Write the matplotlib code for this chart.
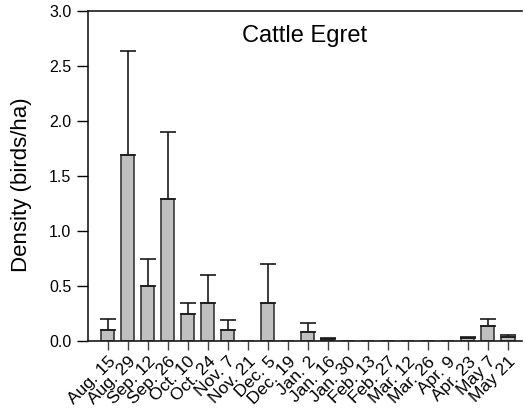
import matplotlib
matplotlib.use("Agg")
import matplotlib.pyplot as plt
import numpy as np

plt.rcParams['font.family'] = ['Liberation Sans', 'DejaVu Sans']

dates = ["Aug. 15", "Aug. 29", "Sep. 12", "Sep. 26", "Oct. 10", "Oct. 24", "Nov. 7",
         "Nov. 21", "Dec. 5", "Dec. 19", "Jan. 2", "Jan. 16", "Jan. 30", "Feb. 13",
         "Feb. 27", "Mar. 12", "Mar. 26", "Apr. 9", "Apr. 23", "May 7", "May 21"]
density = [0.10, 1.69, 0.50, 1.29, 0.25, 0.35, 0.10,
           0.0, 0.35, 0.0, 0.085, 0.015, 0.0, 0.0,
           0.0, 0.0, 0.0, 0.0, 0.03, 0.14, 0.034]
upper = [0.20, 2.64, 0.75, 1.90, 0.35, 0.60, 0.19,
         0.0, 0.70, 0.0, 0.16, 0.03, 0.0, 0.0,
         0.0, 0.0, 0.0, 0.0, 0.04, 0.20, 0.052]
yticks = [0.0, 0.5, 1.0, 1.5, 2.0, 2.5, 3.0]

fig = plt.figure(figsize=(5.25, 4.12), dpi=100)
ax = fig.add_axes([0.1676, 0.1723, 0.8267, 0.801])

x = np.arange(len(dates))
vals = np.array(density)
err_up = np.array(upper) - vals
has_err = np.array(upper) > 0

ax.bar(x, vals, width=0.65, color='#c0c0c0', edgecolor='#2a2a2a', linewidth=1.1, zorder=2)
ax.errorbar(x[has_err], vals[has_err],
            yerr=[np.zeros(has_err.sum()), err_up[has_err]],
            fmt='none', ecolor='#1a1a1a', elinewidth=1.2, capsize=5.8, capthick=1.2, zorder=3)

ax.set_xlim(-0.98, 20.7)
ax.set_ylim(0, 3.0)
ax.set_yticks(yticks)
ax.set_yticklabels([f"{v:.1f}" for v in yticks], fontsize=11.5)
ax.set_xticks(x)
ax.set_xticklabels(dates, rotation=45, ha='right', rotation_mode='anchor', fontsize=12.5)
ax.tick_params(axis='y', direction='out', length=8, width=1.0, pad=4)
ax.tick_params(axis='x', direction='out', length=6.5, width=1.0, pad=3, color='#444444')

for s in ['left', 'bottom', 'top']:
    ax.spines[s].set_linewidth(1.2)
    ax.spines[s].set_color('#1a1a1a')
ax.spines['right'].set_visible(False)

ax.set_ylabel("Density (birds/ha)", fontsize=16)
ax.yaxis.set_label_coords(-0.13, 0.475)
ax.text(0.5, 0.924, "Cattle Egret", transform=ax.transAxes, ha='center', va='center', fontsize=17)

fig.savefig("out.png", dpi=100)
